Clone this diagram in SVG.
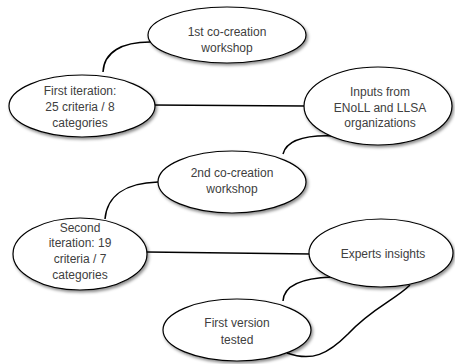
<svg xmlns="http://www.w3.org/2000/svg" width="455" height="364" viewBox="0 0 455 364">
<defs>
<filter id="sh" x="-10%" y="-10%" width="125%" height="135%">
<feDropShadow dx="1.5" dy="2" stdDeviation="1.5" flood-color="#000" flood-opacity="0.45"/>
</filter>
</defs>
<style>
.n ellipse{fill:#fff;stroke:#000;stroke-width:1.2;filter:url(#sh)}
.n text{font-family:"Liberation Sans",Arial,sans-serif;font-size:12px;fill:#404040;text-anchor:middle}
.c path{fill:none;stroke:#000;stroke-width:1.5}
</style>
<rect width="455" height="364" fill="#fff"/>
<g class="c" id="connectors">
<path d="M103,72 C104,52 122,42 150,42"/>
<path d="M152,105 L305,106"/>
<path d="M283,154 C287,139 308,135 334,136"/>
<path d="M158,182 C125,183 107,196 105,219"/>
<path d="M147,252 L311,254"/>
<path d="M283,301 C284,285 302,278 332,277"/>
<path d="M287,353 C312,362 328,354 348,334 C372,308 395,300 410,285"/>
</g>
<g class="n" id="n1"><ellipse cx="227" cy="35" rx="79" ry="28"/><text x="227" y="36">1st co-creation</text><text x="227" y="52">workshop</text></g>
<g class="n" id="n2"><ellipse cx="82" cy="106" rx="73" ry="31"/><text x="80" y="95">First iteration:</text><text x="80" y="111">25 criteria / 8</text><text x="80" y="127">categories</text></g>
<g class="n" id="n3"><ellipse cx="378" cy="106" rx="74" ry="39"/><text x="380" y="96">Inputs from</text><text x="380" y="112">ENoLL and LLSA</text><text x="380" y="127">organizations</text></g>
<g class="n" id="n4"><ellipse cx="232" cy="182" rx="74" ry="31"/><text x="232" y="177">2nd co-creation</text><text x="232" y="193">workshop</text></g>
<g class="n" id="n5"><ellipse cx="80" cy="254" rx="67" ry="36"/><text x="80" y="232">Second</text><text x="80" y="247">iteration: 19</text><text x="80" y="263">criteria / 7</text><text x="80" y="279">categories</text></g>
<g class="n" id="n6"><ellipse cx="381" cy="253" rx="72" ry="34"/><text x="383" y="258">Experts insights</text></g>
<g class="n" id="n7"><ellipse cx="237" cy="330" rx="74" ry="31"/><text x="237" y="327">First version</text><text x="237" y="344">tested</text></g>
</svg>
